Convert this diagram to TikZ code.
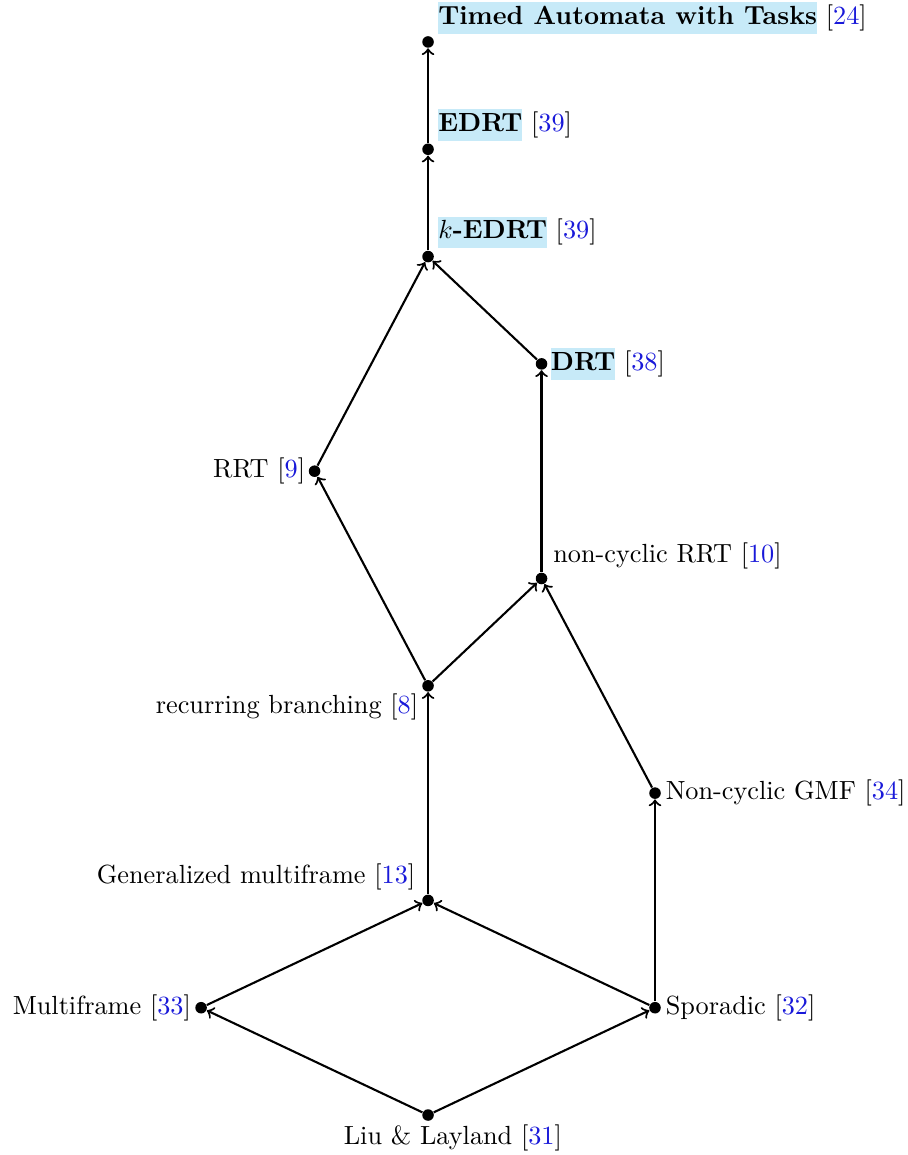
\documentclass[tikz,border=0pt]{standalone}
\usetikzlibrary{positioning}
\definecolor{hlcol}{RGB}{199,234,248}
\definecolor{citecol}{rgb}{0.1,0.1,0.85}
\newcommand{\cit}[1]{[\textcolor{citecol}{#1}]}
\newcommand{\hlbox}[1]{{\setlength{\fboxsep}{0pt}\colorbox{hlcol}{\strut\textbf{#1}}}}
\begin{document}
\begin{tikzpicture}[x=1.519cm, y=1.4364cm, >=to,
  pt/.style={circle, fill, inner sep=0pt, minimum size=4.4pt},
  lbl/.style={inner sep=0pt}]
\useasboundingbox (-5.73cm,-0.535cm) rectangle (6.412cm,14.926cm);
\node[pt] (liu) at (0,0) {};
\node[pt] (mf) at (-2,1) {};
\node[pt] (spo) at (2,1) {};
\node[pt] (gm) at (0,2) {};
\node[pt] (ncgmf) at (2,3) {};
\node[pt] (rb) at (0,4) {};
\node[pt] (ncrrt) at (1,5) {};
\node[pt] (rrt) at (-1,6) {};
\node[pt] (drt) at (1,7) {};
\node[pt] (kedrt) at (0,8) {};
\node[pt] (edrt) at (0,9) {};
\node[pt] (ta) at (0,10) {};

\foreach \a/\b in {liu/mf, liu/spo, mf/gm, spo/gm, spo/ncgmf, gm/rb, rb/rrt, rb/ncrrt,
  ncgmf/ncrrt, ncrrt/drt, rrt/kedrt, drt/kedrt, kedrt/edrt, edrt/ta}
  \draw[thick,->] (\a)--(\b);

\node[lbl, below=1pt of liu] (liuL) {Liu \& Layland\rlap{\ \cit{31}}};
\node[lbl, left=1.3pt of mf] (mfL) {Multiframe \cit{33}};
\node[lbl, right=1.5pt of spo] (spoL) {Sporadic \cit{32}};
\node[lbl, above left=2.2pt and 3pt of gm] (gmL) {Generalized multiframe \cit{13}};
\node[lbl, right=1.5pt of ncgmf] (ncgmfL) {Non-cyclic GMF \cit{34}};
\node[lbl, below left=2.8pt and 1.2pt of rb.west] (rbL) {recurring branching \cit{8}};
\node[lbl, above right=1.8pt and 2.6pt of ncrrt] (ncrrtL) {non-cyclic RRT \cit{10}};
\node[lbl, left=1pt of rrt] (rrtL) {RRT \cit{9}};
\node[lbl, right=1pt of drt] (drtL) {\hlbox{DRT} \cit{38}};
\node[lbl, above right=1.3pt and 2pt of kedrt] (kedrtL) {\hlbox{$k$-EDRT} \cit{39}};
\node[lbl, above right=1.3pt and 2pt of edrt] (edrtL) {\hlbox{EDRT} \cit{39}};
\node[lbl, above right=1.3pt and 2pt of ta] (taL) {\hlbox{Timed Automata with Tasks} \cit{24}};
\end{tikzpicture}
\end{document}
